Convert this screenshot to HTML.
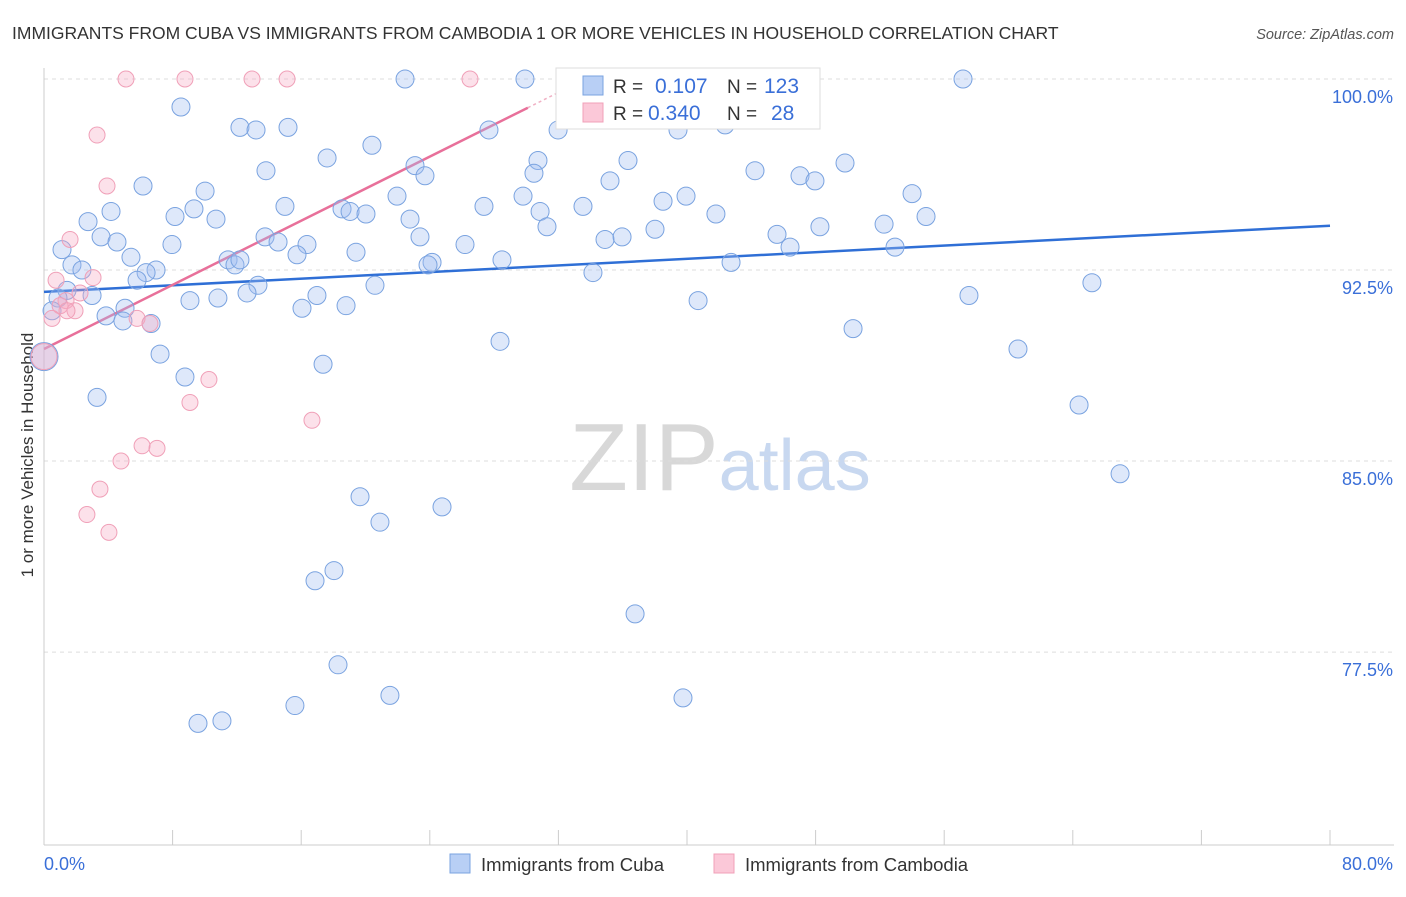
<!DOCTYPE html>
<html><head><meta charset="utf-8"><style>
body{margin:0;background:#fff;font-family:"Liberation Sans",sans-serif}
svg text{font-family:"Liberation Sans",sans-serif}
</style></head><body>
<svg id="chart" width="1406" height="892" xmlns="http://www.w3.org/2000/svg">
<text x="12" y="39" font-size="17.5" fill="#333">IMMIGRANTS FROM CUBA VS IMMIGRANTS FROM CAMBODIA 1 OR MORE VEHICLES IN HOUSEHOLD CORRELATION CHART</text>
<text x="1394" y="39" font-size="14.5" fill="#555" text-anchor="end" font-style="italic">Source: ZipAtlas.com</text>
<text x="720" y="490" font-size="96" text-anchor="middle" fill="#ddd" font-family="Liberation Serif"><tspan fill="#d8d8d8">ZIP</tspan><tspan fill="#c8d8f0" font-family="Liberation Sans" font-size="72">atlas</tspan></text>
<text transform="translate(33,455) rotate(-90)" font-size="17" fill="#333" text-anchor="middle">1 or more Vehicles in Household</text>
<g id="grid"></g><g id="axes"></g><g id="trend"></g><g id="pts"></g>
<g>
<rect x="556" y="68" width="264" height="61" fill="#fff" stroke="#ddd"/>
<rect x="583" y="76" width="20" height="19" fill="#b8cff5" stroke="#7aa3e0"/>
<text x="613" y="93" font-size="19" fill="#333">R = </text><text x="655" y="93" font-size="21" fill="#3a6fd8">0.107</text>
<text x="727" y="93" font-size="19" fill="#333">N =</text><text x="764" y="93" font-size="21" fill="#3a6fd8">123</text>
<rect x="583" y="103" width="20" height="19" fill="#fbc8d8" stroke="#f0a0b8"/>
<text x="613" y="120" font-size="19" fill="#333">R = </text><text x="648" y="120" font-size="21" fill="#3a6fd8">0.340</text>
<text x="727" y="120" font-size="19" fill="#333">N =</text><text x="771" y="120" font-size="21" fill="#3a6fd8">28</text>
</g>
<g>
<rect x="450" y="854" width="20" height="19" fill="#b8cff5" stroke="#7aa3e0"/>
<text x="481" y="871" font-size="18.5" fill="#333">Immigrants from Cuba</text>
<rect x="714" y="854" width="20" height="19" fill="#fbc8d8" stroke="#f0a0b8"/>
<text x="745" y="871" font-size="18.5" fill="#333">Immigrants from Cambodia</text>
</g>
</svg>
<script>
const yTicks=[100,92.5,85,77.5];
const yTickLabels=["100.0%","92.5%","85.0%","77.5%"];
const xTicks=[0,8,16,24,32,40,48,56,64,72,80];
const cubaX=[0,22.46,29.92,32.41,57.17,8.52,12.19,13.19,15.18,27.68,31.98,39.44,42.37,17.61,20.40,13.81,30.73,36.33,23.08,23.70,30.48,44.23,47.03,47.96,49.83,6.16,10.02,35.21,54.00,4.17,8.15,9.33,10.70,14.99,18.54,19.04,20.03,21.96,22.77,27.37,29.80,30.86,33.53,38.51,39.94,41.80,54.87,2.74,3.55,4.54,7.96,13.75,14.56,16.36,23.39,26.19,31.29,34.90,35.96,38.01,45.60,46.41,48.27,52.26,52.94,1.12,1.74,5.41,6.97,6.35,2.36,11.45,11.88,12.19,15.74,19.41,24.14,23.89,28.49,34.15,42.74,5.79,13.31,20.59,1.43,2.99,0.87,9.08,10.82,12.63,16.98,5.04,3.86,4.91,6.66,16.05,18.79,40.69,57.54,65.19,0.50,50.33,7.22,28.37,60.59,17.36,8.77,3.30,64.39,66.94,19.66,24.76,20.90,18.04,16.86,36.77,18.29,21.52,39.75,15.61,9.58,11.07];
const cubaY=[89.1,100,100,100,100,98.9,98.1,98.0,98.1,98.0,98.0,98.0,98.2,96.9,97.4,96.4,96.8,96.8,96.6,96.2,96.3,96.4,96.2,96.0,96.7,95.8,95.6,96.0,95.5,94.8,94.6,94.9,94.5,95.0,94.9,94.8,94.7,95.4,94.5,95.0,95.4,94.8,95.0,95.2,95.4,94.7,94.6,94.4,93.8,93.6,93.5,93.8,93.6,93.5,93.8,93.5,94.2,93.7,93.8,94.1,93.9,93.4,94.2,94.3,93.4,93.3,92.7,93.0,92.5,92.4,92.5,92.9,92.7,92.9,93.1,93.2,92.8,92.7,92.9,92.4,92.8,92.1,91.9,91.9,91.7,91.5,91.4,91.3,91.4,91.6,91.5,91.0,90.7,90.5,90.4,91.0,91.1,91.3,91.5,92.0,90.9,90.2,89.2,89.7,89.4,88.8,88.3,87.5,87.2,84.5,83.6,83.2,82.6,80.7,80.3,79.0,77.0,75.8,75.7,75.4,74.7,74.8];
const cambX=[5.10,8.77,12.94,15.12,26.50,3.30,3.92,1.62,0.75,3.05,1.37,1.00,2.24,1.93,0.50,1.43,5.79,6.59,0,10.26,9.08,16.67,6.10,7.03,4.79,3.48,2.67,4.04];
const cambY=[100,100,100,100,100,97.8,95.8,93.7,92.1,92.2,91.3,91.1,91.6,90.9,90.6,90.9,90.6,90.4,89.1,88.2,87.3,86.6,85.6,85.5,85.0,83.9,82.9,82.2];
const cubaTrend=[91.64,94.24];
const cambTrend=[89.4,0.3147];
const ns="http://www.w3.org/2000/svg";
const X=v=>44+v*16.075, Y=v=>79+(100-v)*25.47;
function mk(tag,attrs,parent){const e=document.createElementNS(ns,tag);for(const k in attrs)e.setAttribute(k,attrs[k]);document.getElementById(parent).appendChild(e);return e;}
yTicks.forEach((t,i)=>{
 const l=mk('line',{x1:44,x2:1394,y1:Y(t),y2:Y(t),stroke:'#ddd','stroke-dasharray':'4,4'},'grid');
 
 
 const tx=mk('text',{x:1393,y:Y(t)+24,'font-size':18,fill:'#3a6fd8','text-anchor':'end'},'grid');
 tx.textContent=yTickLabels[i];
 
 
});
const xa=mk('line',{x1:44,x2:1394,y1:845,y2:845,stroke:'#ccc'},'axes');


const ya=mk('line',{x1:44,x2:44,y1:68,y2:845,stroke:'#ccc'},'axes');


xTicks.forEach(t=>{
 const l=mk('line',{x1:X(t),x2:X(t),y1:830,y2:845,stroke:'#ccc'},'axes');
 
 
});
const xl0=mk('text',{x:44,y:870,'font-size':18,fill:'#3a6fd8'},'axes');xl0.textContent='0.0%';


const xl1=mk('text',{x:1393,y:870,'font-size':18,fill:'#3a6fd8','text-anchor':'end'},'axes');xl1.textContent='80.0%';


cubaX.forEach((v,i)=>{
 const c=mk('circle',{cx:X(v),cy:Y(cubaY[i]),r:i===0?14:9,fill:'rgba(160,190,240,0.35)',stroke:'#7aa3e0','stroke-width':1},'pts');
 
 
});
cambX.forEach((v,i)=>{
 const c=mk('circle',{cx:X(v),cy:Y(cambY[i]),r:i===18?13:8,fill:'rgba(245,170,195,0.35)',stroke:'#f0a0b8','stroke-width':1},'pts');
 
 
});
const bt=mk('line',{x1:X(0),y1:Y(cubaTrend[0]),x2:X(80),y2:Y(cubaTrend[1]),stroke:'#2f6fd6','stroke-width':2.5},'trend');


const pt=mk('line',{x1:X(0),y1:Y(cambTrend[0]),x2:X(30.1),y2:Y(cambTrend[0]+cambTrend[1]*30.1),stroke:'#e8709a','stroke-width':2.5},'trend');


const pd=mk('line',{x1:X(30.1),y1:Y(cambTrend[0]+cambTrend[1]*30.1),x2:X(32),y2:Y(cambTrend[0]+cambTrend[1]*32),stroke:'#f0b0c4','stroke-width':1.5,'stroke-dasharray':'3,3'},'trend');


</script>
</body></html>
